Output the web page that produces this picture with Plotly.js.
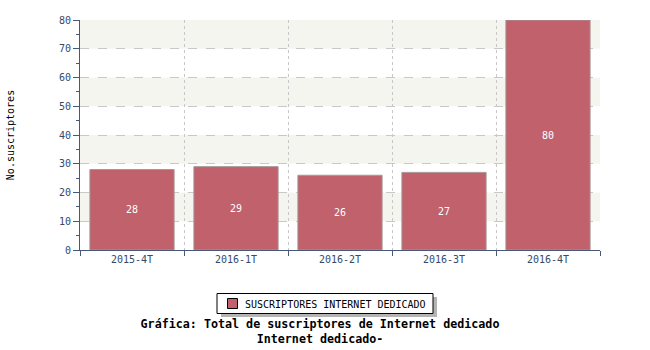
<!DOCTYPE html>
<html>
<head>
<meta charset="utf-8">
<script src="https://cdn.plot.ly/plotly-3.0.1.min.js"></script>
<style>html,body{margin:0;padding:0;background:#fff;}</style>
</head>
<body>
<div id="chart" style="width:650px;height:350px;"></div>
<script>
var categories = ["2015-4T", "2016-1T", "2016-2T", "2016-3T", "2016-4T"];
var suscriptores = [28, 29, 26, 27, 80];
var seriesName = "SUSCRIPTORES INTERNET DEDICADO";
var bandRanges = [[10, 20], [30, 40], [50, 60], [70, 80]];

var mono = "DejaVu Sans Mono, monospace";
var axisColor = "#4a5878";
var barColor = "#c0616b";

// helpers to convert pixel positions (in the 650x350 page) to paper coords
var L = 80, R = 600, T = 20, B = 250;
function px(x) { return (x - L) / (R - L); }
function py(y) { return (B - y) / (B - T); }

var shapes = bandRanges.map(function (r) {
  return {type: "rect", xref: "paper", yref: "y", x0: 0, x1: 1, y0: r[0], y1: r[1],
          fillcolor: "#f5f5f0", line: {width: 0}, layer: "below"};
});
// legend box: shadow, frame, swatch
shapes.push({type: "rect", xref: "paper", yref: "paper",
  x0: px(221), x1: px(437), y0: py(317), y1: py(297),
  fillcolor: "#b4b4b4", line: {width: 0}, layer: "above"});
shapes.push({type: "rect", xref: "paper", yref: "paper",
  x0: px(217), x1: px(433), y0: py(313.5), y1: py(293.5),
  fillcolor: "#ffffff", line: {color: "#000000", width: 1}, layer: "above"});
shapes.push({type: "rect", xref: "paper", yref: "paper",
  x0: px(227.5), x1: px(237.5), y0: py(308.5), y1: py(298.5),
  fillcolor: barColor, line: {color: "#000000", width: 1}, layer: "above"});

var trace = {
  type: "bar",
  x: categories,
  y: suscriptores,
  name: seriesName,
  width: 0.81,
  marker: {color: barColor, line: {color: "#a89898", width: 1}},
  text: suscriptores.map(String),
  textposition: "inside",
  insidetextanchor: "middle",
  textfont: {family: mono, size: 10, color: "#ffffff"},
  hoverinfo: "x+y",
  showlegend: false
};

var layout = {
  width: 650, height: 350,
  margin: {l: 80, r: 50, t: 20, b: 100},
  paper_bgcolor: "#ffffff",
  plot_bgcolor: "#ffffff",
  font: {family: mono, size: 10, color: "#000"},
  showlegend: false,
  title: {
    text: "<b>Gráfica: Total de suscriptores de Internet dedicado<br>Internet dedicado-</b>",
    font: {family: mono, size: 11.7, color: "#000"},
    xref: "container", x: 320 / 650, xanchor: "center",
    yref: "container", y: 1 - 328 / 350, yanchor: "top"
  },
  annotations: [{
    text: seriesName,
    xref: "paper", yref: "paper",
    x: px(243), xanchor: "left",
    y: py(304), yanchor: "middle",
    showarrow: false,
    font: {family: mono, size: 10, color: "#000"}
  }],
  xaxis: {
    type: "category",
    tickson: "boundaries",
    ticks: "outside", ticklen: 5, tickcolor: axisColor,
    showline: true, linecolor: axisColor, linewidth: 1,
    showgrid: true, gridcolor: "#c8c8c8", griddash: "dot", gridwidth: 1,
    tickfont: {family: mono, size: 10, color: "#3a4868"},
    zeroline: false, fixedrange: true
  },
  yaxis: {
    range: [0, 80], dtick: 10, tick0: 0,
    ticks: "outside", ticklen: 6, tickcolor: axisColor,
    minor: {dtick: 5, ticks: "outside", ticklen: 3, tickcolor: axisColor, showgrid: false},
    showline: true, linecolor: axisColor, linewidth: 1,
    showgrid: true, gridcolor: "#c8c8c8", griddash: "dash", gridwidth: 1,
    tickfont: {family: mono, size: 10, color: "#3a4868"},
    zeroline: false,
    title: {text: "No.suscriptores", font: {family: mono, size: 10, color: "#000"}, standoff: 42},
    fixedrange: true
  },
  shapes: shapes,
  bargap: 0.19
};

Plotly.newPlot("chart", [trace], layout, {displayModeBar: false, staticPlot: true});
</script>
</body>
</html>
